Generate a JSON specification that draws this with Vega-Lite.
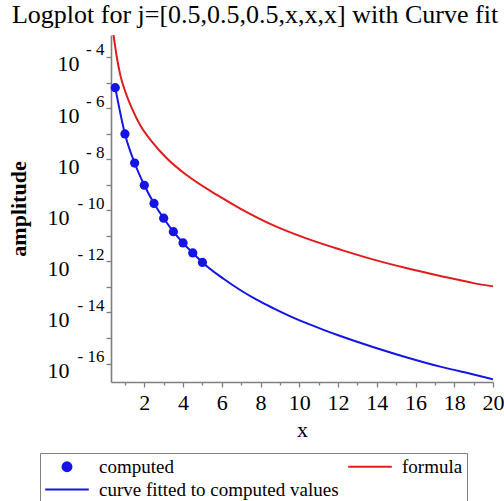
{
  "$schema": "https://vega.github.io/schema/vega-lite/v6.json",
  "width": 382,
  "height": 347,
  "autosize": {"type": "none"},
  "padding": {"left": 111, "top": 35, "right": 11, "bottom": 119},
  "background": "white",
  "title": {
    "text": "Logplot for j=[0.5,0.5,0.5,x,x,x] with Curve fit",
    "font": "Liberation Serif",
    "fontSize": 26,
    "fontWeight": "normal",
    "color": "black",
    "anchor": "middle",
    "baseline": "alphabetic",
    "offset": -14,
    "dx": -47
  },
  "config": {
    "view": {"stroke": null},
    "axis": {
      "grid": false,
      "labelFont": "Liberation Serif",
      "titleFont": "Liberation Serif",
      "labelColor": "black",
      "titleColor": "black",
      "domainColor": "#7f7f7f",
      "tickColor": "#7f7f7f",
      "domainWidth": 1.6,
      "tickWidth": 1.3
    }
  },
  "data": {
    "values": [
      {"series": "computed", "x": 0.5, "amp": 6.31e-6},
      {"series": "computed", "x": 1.0, "amp": 9.77e-8},
      {"series": "computed", "x": 1.5, "amp": 7.08e-9},
      {"series": "computed", "x": 2.0, "amp": 9.55e-10},
      {"series": "computed", "x": 2.5, "amp": 1.86e-10},
      {"series": "computed", "x": 3.0, "amp": 4.90e-11},
      {"series": "computed", "x": 3.5, "amp": 1.45e-11},
      {"series": "computed", "x": 4.0, "amp": 5.25e-12},
      {"series": "computed", "x": 4.5, "amp": 2.14e-12},
      {"series": "computed", "x": 5.0, "amp": 9.12e-13},

      {"series": "curve fitted to computed values", "x": 0.5, "amp": 6.31e-6},
      {"series": "curve fitted to computed values", "x": 1.0, "amp": 9.77e-8},
      {"series": "curve fitted to computed values", "x": 1.5, "amp": 7.08e-9},
      {"series": "curve fitted to computed values", "x": 2.0, "amp": 9.55e-10},
      {"series": "curve fitted to computed values", "x": 2.5, "amp": 1.86e-10},
      {"series": "curve fitted to computed values", "x": 3.0, "amp": 4.90e-11},
      {"series": "curve fitted to computed values", "x": 3.5, "amp": 1.45e-11},
      {"series": "curve fitted to computed values", "x": 4.0, "amp": 5.25e-12},
      {"series": "curve fitted to computed values", "x": 4.5, "amp": 2.14e-12},
      {"series": "curve fitted to computed values", "x": 5.0, "amp": 9.12e-13},
      {"series": "curve fitted to computed values", "x": 6.09, "amp": 2.09e-13},
      {"series": "curve fitted to computed values", "x": 6.95, "amp": 7.59e-14},
      {"series": "curve fitted to computed values", "x": 7.82, "amp": 3.09e-14},
      {"series": "curve fitted to computed values", "x": 8.67, "amp": 1.45e-14},
      {"series": "curve fitted to computed values", "x": 9.54, "amp": 7.08e-15},
      {"series": "curve fitted to computed values", "x": 10.4, "amp": 3.72e-15},
      {"series": "curve fitted to computed values", "x": 11.25, "amp": 2.09e-15},
      {"series": "curve fitted to computed values", "x": 12.12, "amp": 1.20e-15},
      {"series": "curve fitted to computed values", "x": 13.84, "amp": 4.37e-16},
      {"series": "curve fitted to computed values", "x": 15.56, "amp": 1.74e-16},
      {"series": "curve fitted to computed values", "x": 17.28, "amp": 7.59e-17},
      {"series": "curve fitted to computed values", "x": 19.0, "amp": 3.72e-17},
      {"series": "curve fitted to computed values", "x": 20.0, "amp": 2.45e-17},

      {"series": "formula", "x": 0.41, "amp": 7.24e-4},
      {"series": "formula", "x": 0.59, "amp": 8.91e-5},
      {"series": "formula", "x": 0.76, "amp": 1.95e-5},
      {"series": "formula", "x": 1.02, "amp": 4.37e-6},
      {"series": "formula", "x": 1.36, "amp": 9.77e-7},
      {"series": "formula", "x": 1.79, "amp": 2.14e-7},
      {"series": "formula", "x": 2.4, "amp": 4.79e-8},
      {"series": "formula", "x": 3.17, "amp": 1.07e-8},
      {"series": "formula", "x": 4.2, "amp": 2.34e-9},
      {"series": "formula", "x": 5.75, "amp": 3.98e-10},
      {"series": "formula", "x": 6.95, "amp": 1.17e-10},
      {"series": "formula", "x": 8.67, "amp": 2.57e-11},
      {"series": "formula", "x": 10.4, "amp": 7.76e-12},
      {"series": "formula", "x": 12.12, "amp": 2.88e-12},
      {"series": "formula", "x": 13.84, "amp": 1.17e-12},
      {"series": "formula", "x": 15.56, "amp": 5.37e-13},
      {"series": "formula", "x": 17.28, "amp": 2.69e-13},
      {"series": "formula", "x": 19.0, "amp": 1.41e-13},
      {"series": "formula", "x": 20.0, "amp": 1.05e-13}
    ]
  },
  "layer": [
    {
      "transform": [{"filter": "datum.series !== 'computed'"}],
      "mark": {"type": "line", "strokeWidth": 2, "clip": true, "interpolate": "monotone"},
      "encoding": {
        "x": {
          "field": "x", "type": "quantitative",
          "scale": {"domain": [0.28, 20], "nice": false, "zero": false},
          "axis": {
            "orient": "bottom",
            "values": [2, 4, 6, 8, 10, 12, 14, 16, 18, 20],
            "title": "x",
            "titleFontSize": 22,
            "titleFontWeight": "normal",
            "titlePadding": 6,
            "labelFontSize": 22,
            "tickSize": 5,
            "labelPadding": 5,
            "labelFlush": false,
            "labelOverlap": false
          }
        },
        "y": {
          "field": "amp", "type": "quantitative",
          "scale": {"type": "log", "domain": [1.9e-17, 7.26e-4], "nice": false},
          "axis": {
            "orient": "left",
            "values": [1e-4, 1e-5, 1e-6, 1e-7, 1e-8, 1e-9, 1e-10, 1e-11, 1e-12, 1e-13, 1e-14, 1e-15, 1e-16],
            "labelExpr": "(round(log(datum.value) / LN10) % 2 === 0) ? '- ' + (-round(log(datum.value) / LN10)) : ''",
            "labelFontSize": 17,
            "labelPadding": 2,
            "labelOffset": -7,
            "labelBaseline": "middle",
            "tickSize": 5,
            "title": null,
            "labelOverlap": false,
            "labelFlush": false
          }
        },
        "color": {
          "field": "series", "type": "nominal",
          "scale": {
            "domain": ["computed", "formula", "curve fitted to computed values"],
            "range": ["#1414e6", "#e01c1c", "#1414e6"]
          },
          "legend": {
            "orient": "none",
            "direction": "horizontal",
            "legendX": -71,
            "legendY": 418,
            "columns": 2,
            "title": null,
            "labelFont": "Liberation Serif",
            "labelFontSize": 19,
            "labelColor": "black",
            "labelOffset": 9,
            "labelLimit": 400,
            "strokeColor": "#808080",
            "fillColor": "white",
            "padding": 4,
            "columnPadding": 8,
            "rowPadding": 3,
            "clipHeight": 19,
            "symbolType": "stroke",
            "symbolSize": 1900,
            "symbolStrokeWidth": 2,
            "encoding": {
              "symbols": {
                "shape": {"value": {"expr": "datum.value === 'computed' ? 'circle' : 'stroke'"}},
                "size": {"value": {"expr": "datum.value === 'computed' ? 80 : 1900"}},
                "fill": {"value": {"expr": "datum.value === 'computed' ? '#1414e6' : 'transparent'"}},
                "stroke": {"value": {"expr": "datum.value === 'formula' ? '#e01c1c' : (datum.value === 'computed' ? 'transparent' : '#1414e6')"}},
                "strokeWidth": {"value": 2}
              }
            }
          }
        }
      }
    },
    {
      "transform": [{"filter": "datum.series === 'computed'"}],
      "mark": {"type": "point", "filled": true, "size": 85, "opacity": 1, "color": "#1414e6"},
      "encoding": {
        "x": {
          "field": "x", "type": "quantitative",
          "axis": {
            "orient": "bottom",
            "values": [1, 3, 5, 7, 9, 11, 13, 15, 17, 19],
            "labels": false,
            "domain": false,
            "title": null,
            "tickSize": 3
          }
        },
        "y": {
          "field": "amp", "type": "quantitative",
          "axis": {
            "orient": "left",
            "values": [1e-4, 1e-6, 1e-8, 1e-10, 1e-12, 1e-14, 1e-16],
            "labelExpr": "'10'",
            "labelFontSize": 22,
            "labelOffset": 7,
            "labelBaseline": "middle",
            "labelPadding": {"condition": {"test": "datum.value < 1e-9", "value": 42}, "value": 32},
            "ticks": false,
            "tickSize": 0,
            "domain": false,
            "title": "amplitude",
            "titleFontSize": 22,
            "titleFontWeight": "bold",
            "titlePadding": 17,
            "labelOverlap": false,
            "labelFlush": false
          }
        }
      }
    }
  ],
  "resolve": {"axis": {"x": "independent", "y": "independent"}}
}
